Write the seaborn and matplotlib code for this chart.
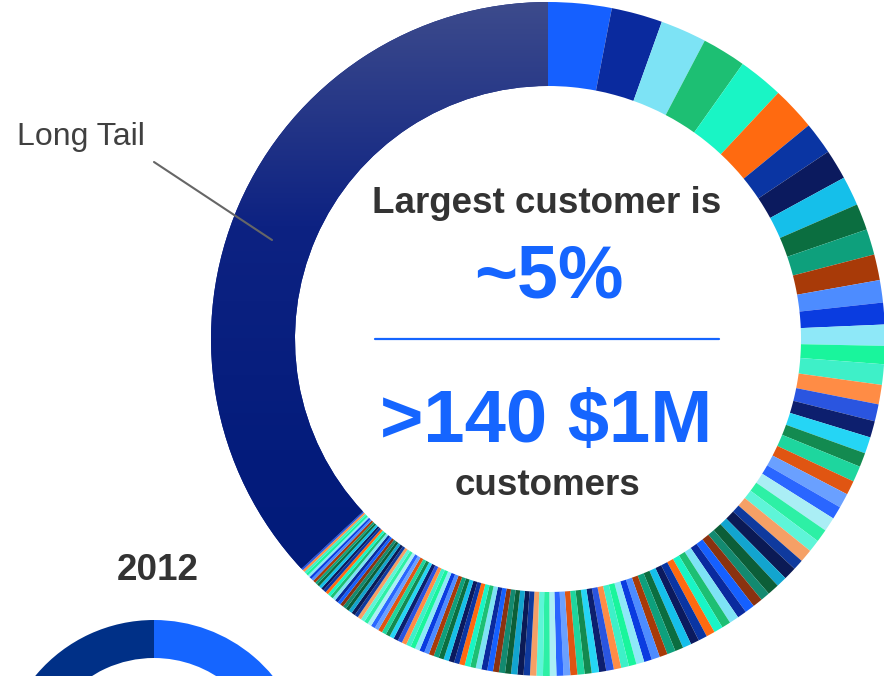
import numpy as np
import matplotlib
matplotlib.use("Agg")
import matplotlib.pyplot as plt
from matplotlib.colors import LinearSegmentedColormap
import seaborn as sns

# customer share of revenue (%), largest first, clockwise from 12 o'clock
top_customers = [3.00, 2.42, 2.19, 2.08, 2.14, 2.08, 1.53, 1.42, 1.39, 1.25, 1.22, 1.22,
                 1.06, 1.03, 1.00, 0.86, 0.97, 0.92, 0.81, 0.78, 0.78, 0.67, 0.75, 0.67,
                 0.69, 0.61, 0.67, 0.61, 0.58, 0.61, 0.50, 0.61, 0.50, 0.56, 0.44, 0.47]
mid_customers = [0.46, 0.44, 0.45, 0.42, 0.43, 0.41, 0.42, 0.40, 0.41, 0.39, 0.40, 0.38,
                 0.39, 0.37, 0.38, 0.36, 0.37, 0.35, 0.36, 0.34, 0.35, 0.33, 0.34, 0.33,
                 0.32, 0.33, 0.31, 0.32]
small_customers = [0.31, 0.30, 0.30, 0.29, 0.30, 0.28, 0.29, 0.28, 0.27, 0.28,
                   0.27, 0.26, 0.27, 0.26, 0.25, 0.26, 0.25, 0.24, 0.25, 0.24,
                   0.23, 0.24, 0.23, 0.22, 0.23, 0.22, 0.21, 0.22, 0.21, 0.20,
                   0.21, 0.20, 0.19, 0.20, 0.19, 0.18, 0.19, 0.18, 0.17, 0.18,
                   0.17, 0.16, 0.17, 0.16, 0.15, 0.16, 0.15, 0.14, 0.15, 0.14,
                   0.14, 0.13, 0.14, 0.13, 0.12, 0.13, 0.12, 0.12, 0.11, 0.12,
                   0.11, 0.11, 0.10]
long_tail = 36.5

# 2012 ring: largest customer vs. rest
shares_2012 = [45, 55]

headline = "Largest customer is"
largest_share = "~5%"
million_count = ">140 $1M"
million_label = "customers"
tail_label = "Long Tail"
year_label = "2012"

palette = ["#1560ff", "#0a2a9e", "#7de3f5", "#1dbf73", "#19f5c5", "#ff6a10",
           "#0a35a3", "#0b1a5e", "#15bfea", "#0b6e40", "#0ea07c", "#a83a08",
           "#4d8cff", "#0a3ce0", "#8ee8f8", "#19f59c", "#3ef0c8", "#ff8c45",
           "#2a55e0", "#0d1f6e", "#25d5f5", "#138a50", "#1ed69e", "#e05512",
           "#6aa0ff", "#2a66ff", "#aaeef5", "#2df0a5", "#5ef5d8", "#f5a066",
           "#0f3a9e", "#0b1a55", "#12a5cf", "#0c5e38", "#138a70", "#8a3210"]

sns.set_theme(style="white")
plt.rcParams["font.family"] = ["Liberation Sans", "DejaVu Sans"]

BLUE = "#1565ff"
GREY = "#333333"

fig = plt.figure(figsize=(8.84, 6.76), dpi=100)
ax = fig.add_axes([0, 0, 1, 1])

customers = top_customers + mid_customers + small_customers
values = customers + [long_tail]
colors = [palette[i % len(palette)] for i in range(len(customers))] + ["#0b2080"]

wedges, _ = ax.pie(values, colors=colors, startangle=90, counterclock=False,
                   radius=337, center=(548, 337),
                   wedgeprops=dict(width=84, linewidth=0))

# soft vertical gradient on the long tail slice
tail = wedges[-1]
cmap = LinearSegmentedColormap.from_list("tail", ["#001a78", "#041c7c", "#0d2282", "#3d4b8c"])
grad = np.linspace(0, 1, 256).reshape(-1, 1)
im = ax.imshow(grad, cmap=cmap, origin="lower", aspect="auto",
               extent=(200, 560, 0, 676), zorder=tail.get_zorder() + 0.1)
im.set_clip_path(tail)

ax.pie(shares_2012, colors=[BLUE, "#003087"], startangle=90, counterclock=False,
       radius=154, center=(154, -98), wedgeprops=dict(width=38, linewidth=0))

ax.set_xlim(0, 884)
ax.set_ylim(0, 676)
ax.set_aspect("equal")
ax.axis("off")

# centre texts
ax.text(547, 463, headline, ha="center", va="baseline", fontsize=26.5,
        fontweight="bold", color=GREY)
ax.text(549, 379, largest_share, ha="center", va="baseline", fontsize=53,
        fontweight="bold", color=BLUE)
ax.plot([375, 719], [337, 337], color=BLUE, lw=1.6)
ax.text(546, 234, million_count, ha="center", va="baseline", fontsize=53.5,
        fontweight="bold", color=BLUE)
ax.text(547, 181, million_label, ha="center", va="baseline", fontsize=26.5,
        fontweight="bold", color=GREY)

# long tail callout
ax.text(17, 531, tail_label, ha="left", va="baseline", fontsize=23, color="#404040")
ax.plot([154, 272], [514, 436], color="#666666", lw=1.5, zorder=5)

ax.text(158, 96, year_label, ha="center", va="baseline", fontsize=26.5,
        fontweight="bold", color=GREY)

fig.savefig("out.png", dpi=100)
